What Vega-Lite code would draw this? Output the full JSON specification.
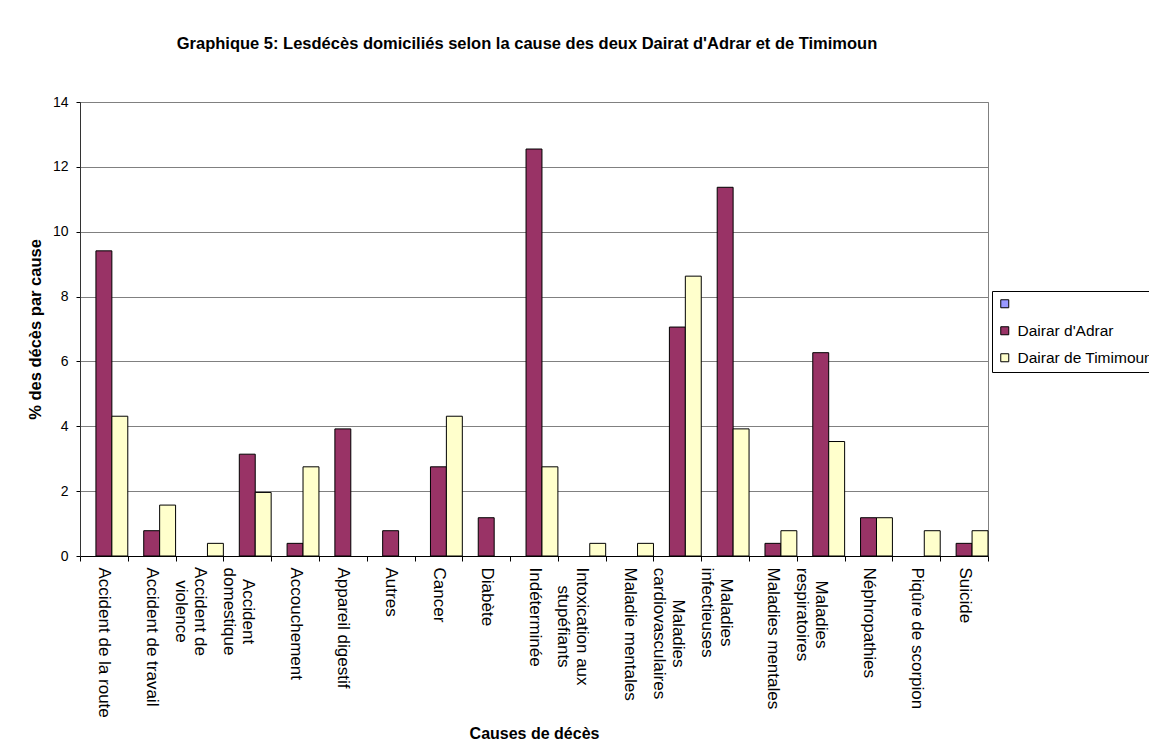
{
  "$schema": "https://vega.github.io/schema/vega-lite/v6.json",
  "width": 908,
  "height": 454,
  "autosize": {"type": "none"},
  "padding": {"left": 80, "top": 102, "right": 161, "bottom": 199},
  "background": "white",
  "config": {
    "font": "Liberation Sans",
    "view": {"stroke": "#808080", "strokeWidth": 1}
  },
  "title": {
    "text": "Graphique 5:  Lesdécès domiciliés selon la cause des deux Dairat d'Adrar et de Timimoun",
    "font": "Liberation Sans",
    "fontSize": 16.5,
    "fontWeight": "bold",
    "color": "black",
    "anchor": "middle",
    "offset": 43,
    "dx": -7
  },
  "data": {
    "values": [
      {"cause": "Accident de la route", "series": "Dairar d'Adrar", "value": 9.41},
      {"cause": "Accident de la route", "series": "Dairar de Timimoun", "value": 4.31},
      {"cause": "Accident de travail", "series": "Dairar d'Adrar", "value": 0.78},
      {"cause": "Accident de travail", "series": "Dairar de Timimoun", "value": 1.57},
      {"cause": "Accident de violence", "series": "Dairar de Timimoun", "value": 0.39},
      {"cause": "Accident domestique", "series": "Dairar d'Adrar", "value": 3.14},
      {"cause": "Accident domestique", "series": "Dairar de Timimoun", "value": 1.96},
      {"cause": "Accouchement", "series": "Dairar d'Adrar", "value": 0.39},
      {"cause": "Accouchement", "series": "Dairar de Timimoun", "value": 2.75},
      {"cause": "Appareil digestif", "series": "Dairar d'Adrar", "value": 3.92},
      {"cause": "Autres", "series": "Dairar d'Adrar", "value": 0.78},
      {"cause": "Cancer", "series": "Dairar d'Adrar", "value": 2.75},
      {"cause": "Cancer", "series": "Dairar de Timimoun", "value": 4.31},
      {"cause": "Diabète", "series": "Dairar d'Adrar", "value": 1.18},
      {"cause": "Indéterminée", "series": "Dairar d'Adrar", "value": 12.55},
      {"cause": "Indéterminée", "series": "Dairar de Timimoun", "value": 2.75},
      {"cause": "Intoxication aux stupéfiants", "series": "Dairar de Timimoun", "value": 0.39},
      {"cause": "Maladie mentales", "series": "Dairar de Timimoun", "value": 0.39},
      {"cause": "Maladies cardiovasculaires", "series": "Dairar d'Adrar", "value": 7.06},
      {"cause": "Maladies cardiovasculaires", "series": "Dairar de Timimoun", "value": 8.63},
      {"cause": "Maladies infectieuses", "series": "Dairar d'Adrar", "value": 11.37},
      {"cause": "Maladies infectieuses", "series": "Dairar de Timimoun", "value": 3.92},
      {"cause": "Maladies mentales", "series": "Dairar d'Adrar", "value": 0.39},
      {"cause": "Maladies mentales", "series": "Dairar de Timimoun", "value": 0.78},
      {"cause": "Maladies respiratoires", "series": "Dairar d'Adrar", "value": 6.27},
      {"cause": "Maladies respiratoires", "series": "Dairar de Timimoun", "value": 3.53},
      {"cause": "Néphropathies", "series": "Dairar d'Adrar", "value": 1.18},
      {"cause": "Néphropathies", "series": "Dairar de Timimoun", "value": 1.18},
      {"cause": "Piqûre de scorpion", "series": "Dairar de Timimoun", "value": 0.78},
      {"cause": "Suicide", "series": "Dairar d'Adrar", "value": 0.39},
      {"cause": "Suicide", "series": "Dairar de Timimoun", "value": 0.78}
    ]
  },
  "mark": {"type": "bar", "stroke": "black", "strokeWidth": 1},
  "encoding": {
    "x": {
      "field": "cause",
      "type": "nominal",
      "sort": null,
      "scale": {"paddingInner": 0, "paddingOuter": 0},
      "axis": {
        "title": "Causes de décès",
        "titleFontSize": 16,
        "titleFontWeight": "bold",
        "titleColor": "black",
        "titlePadding": 8,
        "labelAngle": 90,
        "labelFontSize": 17,
        "labelColor": "black",
        "labelPadding": {
          "condition": [
            {"test": "datum.value == 'Accident de violence' || datum.value == 'Accident domestique'", "value": 50},
            {"test": "datum.value == 'Intoxication aux stupéfiants'", "value": 65},
            {"test": "datum.value == 'Maladies cardiovasculaires'", "value": 72},
            {"test": "datum.value == 'Maladies infectieuses'", "value": 51},
            {"test": "datum.value == 'Maladies respiratoires'", "value": 53}
          ],
          "value": 6
        },
        "labelAlign": {
          "condition": {
            "test": "indexof(['Accident de violence', 'Accident domestique', 'Intoxication aux stupéfiants', 'Maladies cardiovasculaires', 'Maladies infectieuses', 'Maladies respiratoires'], datum.value) >= 0",
            "value": "center"
          },
          "value": "left"
        },
        "labelLimit": 0,
        "labelLineHeight": 19,
        "tickBand": "extent",
        "tickColor": "black",
        "tickSize": 5,
        "domainColor": "black",
        "labelExpr": "datum.label == 'Accident de violence' ? ['Accident de', 'violence'] : datum.label == 'Accident domestique' ? ['Accident', 'domestique'] : datum.label == 'Intoxication aux stupéfiants' ? ['Intoxication aux', 'stupéfiants'] : datum.label == 'Maladies cardiovasculaires' ? ['Maladies', 'cardiovasculaires'] : datum.label == 'Maladies infectieuses' ? ['Maladies', 'infectieuses'] : datum.label == 'Maladies respiratoires' ? ['Maladies', 'respiratoires'] : datum.label"
      }
    },
    "xOffset": {
      "field": "series",
      "scale": {
        "domain": [" ", "Dairar d'Adrar", "Dairar de Timimoun"],
        "paddingInner": 0,
        "paddingOuter": 0
      }
    },
    "y": {
      "field": "value",
      "type": "quantitative",
      "scale": {"domain": [0, 14], "nice": false},
      "axis": {
        "title": "% des décès par cause",
        "titleFontSize": 16.5,
        "titleFontWeight": "bold",
        "titleColor": "black",
        "titlePadding": 9,
        "values": [0, 2, 4, 6, 8, 10, 12, 14],
        "labelFontSize": 14,
        "labelColor": "black",
        "labelPadding": 8,
        "tickColor": "black",
        "tickSize": 4,
        "domainColor": "#333333",
        "grid": true,
        "gridColor": "#808080",
        "gridOpacity": 1
      }
    },
    "color": {
      "field": "series",
      "type": "nominal",
      "scale": {
        "domain": [" ", "Dairar d'Adrar", "Dairar de Timimoun"],
        "range": ["#9999FF", "#993366", "#FFFFCC"]
      },
      "legend": {
        "title": null,
        "orient": "none",
        "legendX": 912,
        "legendY": 189,
        "symbolType": "square",
        "symbolSize": 64,
        "symbolStrokeColor": "black",
        "symbolStrokeWidth": 1,
        "symbolOpacity": 1,
        "labelFontSize": 15.5,
        "labelColor": "black",
        "labelOffset": 5,
        "rowPadding": 10,
        "padding": 5,
        "strokeColor": "black",
        "fillColor": "white"
      }
    }
  }
}
